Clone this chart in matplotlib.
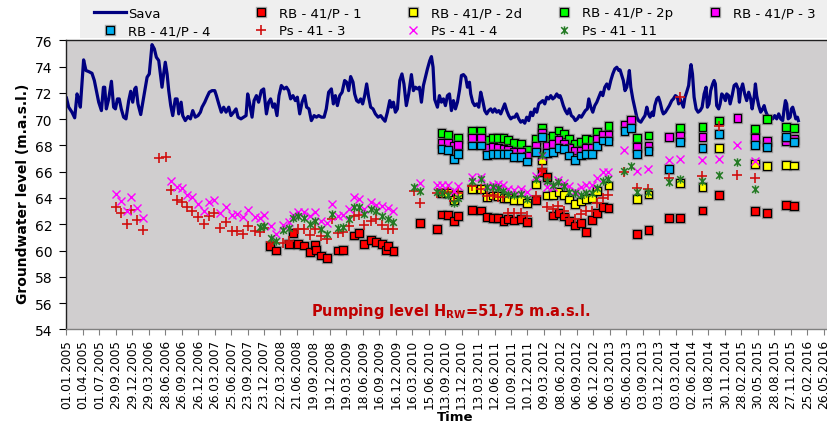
import datetime as dt
import numpy as np
import matplotlib
matplotlib.use("Agg")
import matplotlib.pyplot as plt
import matplotlib.patheffects as pe
from matplotlib.path import Path
from matplotlib.patches import Rectangle

START = dt.date(2005, 1, 1)

# ---- Sava river stage (x = days since 01.01.2005) ----
sava_day = [0, 12, 30, 45, 58, 67, 76, 94, 107, 122, 140, 153, 164, 177, 192, 203, 210, 219, 232, 247,
            259, 269, 280, 290, 301, 314, 327, 342, 353, 364, 375, 382, 393, 408, 424, 443, 455, 470, 483, 494,
            507, 518, 525, 534, 543, 553, 562, 573, 584, 598, 608, 617, 630, 639, 653, 668, 681, 694, 708, 723,
            736, 745, 760, 772, 785, 800, 815, 824, 837, 851, 864, 877, 892, 904, 919, 932, 943, 959, 974, 987,
            996, 1007, 1020, 1031, 1044, 1056, 1071, 1084, 1099, 1111, 1122, 1135, 1144, 1157, 1168, 1181, 1196, 1209, 1221, 1232,
            1245, 1258, 1269, 1282, 1295, 1309, 1320, 1333, 1346, 1361, 1374, 1386, 1401, 1416, 1428, 1441, 1456, 1467, 1478, 1489,
            1502, 1515, 1529, 1540, 1551, 1562, 1575, 1584, 1595, 1606, 1617, 1628, 1639, 1650, 1661, 1672, 1685, 1698, 1713, 1727,
            1740, 1751, 1764, 1777, 1786, 1797, 1808, 1819, 1832, 1844, 1855, 1868, 1881, 1896, 1907, 1918, 1929, 1940, 1951, 1962,
            1973, 1984, 1997, 2006, 2015, 2024, 2039, 2050, 2061, 2072, 2083, 2094, 2105, 2116, 2127, 2138, 2149, 2160, 2171, 2182,
            2194, 2204, 2215, 2222, 2233, 2244, 2255, 2266, 2277, 2288, 2299, 2310, 2321, 2332, 2343, 2354, 2365, 2376, 2387, 2398,
            2409, 2420, 2431, 2442, 2453, 2464, 2475, 2486, 2497, 2508, 2519, 2530, 2541, 2552, 2563, 2574, 2585, 2596, 2607, 2618,
            2629, 2640, 2651, 2662, 2673, 2684, 2695, 2706, 2713, 2720, 2731, 2742, 2753, 2764, 2775, 2786, 2797, 2808, 2819, 2830,
            2841, 2852, 2863, 2871, 2882, 2893, 2904, 2915, 2926, 2937, 2948, 2959, 2970, 2981, 2992, 3003, 3014, 3025, 3036, 3043,
            3061, 3070, 3080, 3089, 3094, 3102, 3113, 3125, 3135, 3144, 3157, 3168, 3180, 3190, 3199, 3208, 3219, 3226, 3234, 3245,
            3254, 3263, 3274, 3281, 3292, 3303, 3314, 3327, 3336, 3347, 3358, 3365, 3373, 3384, 3391, 3400, 3409, 3420, 3428, 3433,
            3441, 3450, 3461, 3472, 3483, 3494, 3505, 3516, 3523, 3532, 3541, 3552, 3560, 3567, 3574, 3585, 3593, 3602, 3611, 3622,
            3629, 3640, 3648, 3659, 3670, 3681, 3692, 3699, 3706, 3717, 3728, 3739, 3750, 3761, 3769, 3780, 3787, 3794, 3805, 3816,
            3827, 3835, 3842, 3849, 3860, 3871, 3882, 3893, 3904, 3915, 3926, 3937, 3945, 3952, 3959, 3967, 3978, 3985, 3992, 4000,
            4009, 4018, 4023]
sava_level = [71.60, 70.91, 70.53, 70.10, 71.92, 71.54, 70.91, 74.51, 73.70, 73.62, 73.49, 72.94, 72.17, 71.29, 70.65, 72.43, 72.43, 70.78, 71.54, 72.88,
              70.91, 70.78, 71.54, 71.54, 70.78, 70.15, 70.02, 71.41, 72.12, 71.29, 72.30, 72.43, 71.16, 70.35, 71.67, 73.19, 73.44, 75.67, 75.34, 74.71,
              74.46, 73.19, 72.43, 73.44, 74.33, 73.44, 72.17, 71.03, 70.27, 71.54, 71.54, 70.40, 71.29, 70.27, 69.89, 70.20, 70.02, 70.65, 70.15, 70.27,
              70.53, 70.91, 71.29, 71.67, 72.05, 72.17, 72.17, 71.79, 71.16, 70.53, 70.91, 70.53, 70.91, 70.27, 70.53, 70.78, 70.15, 70.02, 70.15, 70.27,
              71.92, 71.16, 70.15, 71.41, 71.79, 71.29, 72.17, 72.30, 70.40, 71.29, 71.54, 70.91, 71.16, 70.27, 71.79, 72.56, 72.30, 72.43, 72.17, 71.54,
              71.79, 71.41, 71.67, 70.40, 71.29, 71.79, 70.91, 70.78, 69.89, 70.27, 70.15, 70.27, 70.15, 70.15, 70.78, 72.05, 72.30, 71.16, 71.79, 71.03,
              71.79, 72.05, 72.94, 72.81, 72.17, 73.24, 72.81, 71.92, 71.41, 71.29, 71.54, 71.16, 71.79, 72.68, 71.67, 70.91, 70.78, 70.40, 70.15, 70.27,
              70.02, 69.84, 70.53, 71.41, 70.91, 71.29, 70.53, 70.78, 72.94, 73.44, 72.68, 71.03, 71.92, 73.39, 72.17, 72.43, 72.30, 72.43, 71.29, 72.56,
              73.19, 73.82, 74.46, 74.76, 73.95, 71.50, 70.91, 71.79, 71.29, 71.54, 71.03, 71.79, 71.92, 70.65, 71.41, 70.78, 71.29, 72.17, 73.32, 73.39,
              73.19, 72.43, 72.81, 71.92, 71.29, 71.03, 71.16, 70.91, 72.05, 71.41, 70.65, 70.40, 70.65, 70.78, 70.53, 70.78, 70.53, 70.65, 70.40, 70.78,
              71.16, 70.65, 70.27, 70.02, 70.15, 70.15, 70.40, 70.02, 69.77, 69.89, 69.69, 70.15, 69.89, 70.53, 70.27, 70.78, 70.53, 71.16, 71.29, 71.41,
              71.16, 71.67, 71.54, 71.79, 71.54, 71.67, 71.92, 71.67, 71.79, 71.54, 71.03, 70.65, 70.40, 70.78, 70.27, 70.15, 69.89, 70.02, 70.27, 70.15,
              70.40, 70.65, 70.78, 71.54, 70.91, 70.53, 71.03, 71.29, 71.67, 72.05, 71.79, 72.43, 72.68, 72.30, 72.94, 73.44, 73.82, 73.95, 73.70, 73.75,
              72.94, 72.17, 72.43, 73.19, 73.70, 72.43, 71.54, 70.78, 70.15, 69.89, 69.77, 70.02, 70.27, 70.91, 70.40, 70.15, 70.53, 70.27, 71.03, 71.54,
              71.67, 71.29, 70.65, 70.40, 70.53, 70.78, 71.03, 71.41, 71.54, 71.79, 71.67, 71.16, 71.54, 71.16, 70.91, 71.67, 72.05, 72.56, 73.70, 74.15,
              73.44, 71.67, 70.78, 70.53, 70.65, 70.91, 71.92, 72.43, 70.91, 71.16, 72.17, 72.68, 72.94, 72.68, 71.03, 70.78, 71.16, 71.92, 71.79, 71.41,
              71.92, 71.79, 71.16, 71.79, 72.56, 72.68, 72.30, 71.29, 72.17, 72.68, 71.92, 71.41, 72.05, 71.54, 70.78, 71.67, 72.68, 71.79, 71.03, 70.53,
              70.78, 71.03, 70.65, 70.40, 70.15, 70.20, 70.02, 70.27, 70.02, 70.40, 70.02, 69.89, 70.78, 71.41, 71.16, 70.02, 70.15, 70.78, 70.91, 70.53,
              70.02, 70.15, 69.89]

# ---- Observation wells RB - 41/P (piezometers) ----
rb1_day = [1119, 1150, 1225, 1243, 1271, 1307, 1339, 1366, 1372, 1399, 1430, 1491, 1522, 1581, 1608, 1636, 1672, 1702, 1733, 1755,
           1766, 1797, 1945, 2035, 2062, 2099, 2129, 2154, 2231, 2279, 2310, 2343, 2370, 2402, 2429, 2462, 2499, 2530, 2581, 2612,
           2643, 2673, 2704, 2735, 2764, 2795, 2828, 2856, 2887, 2918, 2948, 2979, 3135, 3199, 3314, 3373, 3496, 3587, 3785, 3849,
           3954, 3999]
rb1_level = [60.33, 60.00, 60.48, 61.35, 60.48, 60.38, 59.88, 60.43, 60.05, 59.62, 59.42, 60.00, 60.05, 61.14, 61.32, 60.48, 60.81, 60.64, 60.48, 60.05,
             60.33, 59.95, 62.11, 61.65, 62.74, 62.71, 62.26, 62.61, 63.10, 63.04, 62.54, 62.49, 62.49, 62.23, 62.41, 62.28, 62.41, 62.16, 63.85, 65.96,
             65.58, 62.66, 62.87, 62.59, 62.23, 61.90, 62.08, 61.40, 62.34, 62.84, 63.30, 63.25, 61.27, 61.58, 62.49, 62.49, 63.04, 64.24, 62.99, 62.84,
             63.48, 63.37]

rb2d_day = [2062, 2099, 2129, 2154, 2231, 2279, 2310, 2343, 2370, 2402, 2429, 2462, 2499, 2530, 2581, 2612, 2643, 2673, 2704, 2735,
            2764, 2795, 2828, 2856, 2887, 2918, 2979, 3135, 3199, 3373, 3496, 3587, 3785, 3849, 3954, 3999]
rb2d_level = [64.39, 64.39, 63.85, 64.26, 64.69, 64.69, 64.06, 64.19, 64.14, 63.98, 63.98, 63.85, 63.85, 63.63, 65.02, 66.85, 64.19, 64.24, 64.44, 64.24,
              63.88, 63.55, 63.73, 63.93, 63.98, 64.52, 64.95, 63.93, 64.26, 65.15, 64.82, 67.78, 66.59, 66.42, 66.54, 66.47]

rb2p_day = [2062, 2099, 2154, 2231, 2279, 2310, 2343, 2370, 2402, 2429, 2462, 2499, 2530, 2581, 2612, 2643, 2673, 2704, 2735, 2764,
            2795, 2828, 2856, 2887, 2918, 2979, 3135, 3199, 3373, 3496, 3587, 3785, 3849, 3954, 3999]
rb2p_level = [68.93, 68.82, 68.55, 69.08, 69.13, 68.42, 68.57, 68.57, 68.57, 68.44, 68.19, 68.11, 67.68, 68.50, 69.33, 68.55, 68.70, 69.13, 68.87, 68.50,
              68.11, 68.29, 68.50, 68.44, 69.05, 69.46, 68.55, 68.75, 69.33, 69.38, 69.89, 69.26, 70.02, 69.43, 69.31]

rb3_day = [2062, 2099, 2129, 2154, 2231, 2279, 2310, 2343, 2370, 2402, 2429, 2462, 2499, 2530, 2581, 2612, 2643, 2673, 2704, 2735,
           2764, 2795, 2828, 2856, 2887, 2918, 2948, 2979, 3067, 3102, 3135, 3199, 3314, 3373, 3496, 3688, 3785, 3849, 3954, 3999]
rb3_level = [68.17, 68.19, 67.99, 68.04, 68.55, 68.57, 67.81, 67.86, 67.81, 67.73, 67.66, 67.48, 67.53, 67.18, 67.94, 68.95, 67.99, 68.11, 68.42, 68.11,
             67.78, 67.61, 67.61, 67.78, 67.78, 68.50, 68.82, 68.82, 69.59, 69.94, 67.86, 67.99, 68.62, 68.70, 68.67, 70.07, 68.55, 68.32, 68.32, 68.50]

rb4_day = [2062, 2099, 2129, 2154, 2231, 2279, 2310, 2343, 2370, 2402, 2429, 2462, 2499, 2530, 2581, 2612, 2643, 2673, 2704, 2735,
           2764, 2795, 2828, 2856, 2887, 2918, 2948, 2979, 3067, 3102, 3135, 3199, 3314, 3373, 3496, 3587, 3785, 3849, 3954, 3999]
rb4_level = [67.73, 67.68, 66.97, 67.35, 67.99, 67.99, 67.30, 67.35, 67.35, 67.35, 67.35, 67.10, 67.10, 66.77, 67.48, 68.62, 67.40, 67.48, 67.81, 67.73,
             67.23, 66.92, 67.23, 67.35, 67.35, 67.94, 68.37, 68.32, 69.08, 69.33, 67.35, 67.56, 66.21, 68.29, 67.78, 68.87, 68.06, 67.86, 68.62, 68.24]

# ---- Piezometers Ps - 41 ----
ps3_day = [272, 301, 331, 356, 390, 419, 510, 547, 575, 606, 636, 664, 692, 721, 754, 783, 811, 846, 875, 908,
           936, 969, 999, 1038, 1064, 1086, 1123, 1192, 1223, 1271, 1307, 1339, 1366, 1399, 1430, 1458, 1491, 1522, 1551, 1581,
           1608, 1636, 1672, 1702, 1733, 1766, 1797, 1908, 1945, 2035, 2062, 2099, 2129, 2154, 2231, 2279, 2310, 2343, 2370, 2402,
           2429, 2462, 2499, 2530, 2581, 2612, 2643, 2673, 2704, 2735, 2764, 2795, 2828, 2856, 2887, 2918, 2948, 2979, 3067, 3135,
           3199, 3314, 3373, 3496, 3587, 3688, 3785]
ps3_level = [63.30, 62.87, 62.03, 63.09, 62.36, 61.60, 67.05, 67.10, 64.64, 63.85, 63.68, 63.30, 63.04, 62.54, 62.03, 62.61, 62.87, 61.70, 62.16, 61.52,
             61.52, 61.27, 61.85, 61.47, 61.45, 61.70, 60.64, 60.56, 60.76, 61.65, 61.65, 61.19, 61.65, 61.14, 60.89, 62.41, 61.32, 61.45, 61.85, 62.66,
             62.72, 61.95, 62.28, 62.41, 61.95, 61.65, 61.65, 64.57, 63.63, 64.39, 64.39, 64.49, 63.80, 64.39, 64.95, 64.69, 64.14, 64.19, 64.06, 64.06,
             62.84, 62.84, 62.87, 62.66, 64.14, 66.21, 63.30, 63.17, 63.42, 63.04, 62.41, 62.41, 62.79, 63.04, 63.04, 63.60, 63.98, 64.24, 66.01, 64.74,
             64.69, 65.50, 71.66, 65.66, 69.46, 65.78, 65.50]

ps4_day = [272, 301, 331, 356, 390, 419, 575, 606, 636, 664, 692, 721, 754, 783, 811, 846, 875, 908, 936, 969,
           999, 1038, 1064, 1086, 1123, 1150, 1192, 1223, 1244, 1271, 1307, 1339, 1366, 1399, 1430, 1458, 1491, 1522, 1551, 1581,
           1608, 1636, 1672, 1702, 1733, 1766, 1797, 1945, 2035, 2062, 2099, 2129, 2154, 2231, 2279, 2310, 2343, 2370, 2402, 2429,
           2462, 2499, 2530, 2581, 2612, 2643, 2673, 2704, 2735, 2764, 2795, 2828, 2856, 2887, 2918, 2948, 2979, 3067, 3135, 3199,
           3314, 3373, 3496, 3587, 3688, 3785]
ps4_level = [64.31, 63.80, 63.04, 64.06, 63.22, 62.46, 65.33, 64.87, 64.74, 64.24, 64.06, 63.55, 63.04, 63.68, 63.88, 62.87, 63.35, 62.72, 62.79, 62.59,
             63.11, 62.59, 62.46, 62.72, 61.85, 61.27, 61.95, 62.16, 62.72, 62.97, 62.97, 62.61, 62.92, 62.28, 62.11, 63.55, 62.61, 62.72, 63.17, 64.06,
             63.93, 63.17, 63.73, 63.47, 63.42, 63.22, 63.04, 65.15, 65.02, 65.02, 65.02, 64.57, 64.95, 65.63, 65.58, 64.95, 65.02, 65.07, 65.02, 64.69,
             64.62, 64.69, 64.44, 65.66, 67.23, 64.82, 64.87, 65.40, 65.15, 64.89, 64.57, 64.82, 65.02, 65.02, 65.50, 65.96, 66.01, 67.68, 66.08, 66.21,
             66.90, 66.97, 66.92, 66.97, 68.04, 66.85]

ps11_day = [1064, 1086, 1123, 1150, 1192, 1223, 1244, 1271, 1307, 1339, 1366, 1399, 1430, 1458, 1491, 1522, 1551, 1581, 1608, 1636,
            1672, 1702, 1733, 1766, 1797, 1908, 1945, 2035, 2062, 2099, 2129, 2154, 2231, 2279, 2310, 2343, 2370, 2402, 2429, 2462,
            2499, 2530, 2581, 2612, 2643, 2673, 2704, 2735, 2764, 2795, 2828, 2856, 2887, 2918, 2948, 2979, 3067, 3102, 3135, 3199,
            3314, 3373, 3496, 3587, 3688, 3785]
ps11_level = [61.78, 61.90, 60.97, 60.76, 61.57, 61.70, 62.46, 62.61, 62.49, 62.03, 62.28, 61.65, 61.27, 62.79, 61.75, 61.78, 62.41, 63.30, 63.30, 62.79,
              63.17, 63.04, 62.66, 62.41, 62.21, 64.82, 64.57, 64.44, 64.39, 64.19, 63.63, 63.98, 65.33, 65.45, 64.82, 64.82, 64.77, 64.52, 64.31, 64.24,
              64.31, 63.93, 65.45, 67.28, 65.33, 65.02, 65.20, 64.95, 64.44, 64.39, 64.19, 64.39, 64.39, 64.74, 65.33, 65.45, 66.08, 66.42, 64.44, 64.44,
              65.20, 65.45, 65.33, 65.78, 66.77, 64.69]

tick_labels = ["01.01.2005", "01.04.2005", "01.07.2005", "29.09.2005", "29.12.2005", "29.03.2006", "28.06.2006",
               "26.09.2006", "26.12.2006", "26.03.2007", "25.06.2007", "23.09.2007", "23.12.2007", "22.03.2008",
               "21.06.2008", "19.09.2008", "19.12.2008", "19.03.2009", "18.06.2009", "16.09.2009", "16.12.2009",
               "16.03.2010", "15.06.2010", "13.09.2010", "13.12.2010", "13.03.2011", "12.06.2011", "10.09.2011",
               "10.12.2011", "09.03.2012", "08.06.2012", "06.09.2012", "06.12.2012", "06.03.2013", "05.06.2013",
               "03.09.2013", "03.12.2013", "03.03.2014", "02.06.2014", "31.08.2014", "30.11.2014", "28.02.2015",
               "30.05.2015", "28.08.2015", "27.11.2015", "25.02.2016", "26.05.2016"]


def day_number(label):
    return (dt.datetime.strptime(label, "%d.%m.%Y").date() - START).days


# Excel-like "star" marker: an x crossed by a vertical bar
star = Path([(-1, -1), (1, 1), (-1, 1), (1, -1), (0, -1.25), (0, 1.25)],
            [Path.MOVETO, Path.LINETO, Path.MOVETO, Path.LINETO, Path.MOVETO, Path.LINETO])

plt.rcParams["font.family"] = "DejaVu Sans"
W, H = 828.0, 427.0
fig = plt.figure(figsize=(W / 100, H / 100), dpi=100)
ax = fig.add_axes([66.5 / W, 1 - 330.4 / H, (W - 66.5) / W, (330.4 - 41.3) / H])
ax.set_facecolor("#D0CECF")

# light panel behind the legend
fig.patches.append(Rectangle((80 / W, 1 - 39 / H), 1, 39 / H, transform=fig.transFigure,
                             facecolor="#EFEFEF", edgecolor="none", zorder=0))

halo = [pe.Stroke(linewidth=2.4, foreground=(0.35, 0.35, 0.35, 0.45)), pe.Normal()]
sq = dict(linestyle="none", marker="s", markersize=5.6, markeredgecolor="black", markeredgewidth=0.9)

h_sava, = ax.plot(sava_day, sava_level, color="#000080", lw=2.3, label="Sava", zorder=2)
h_rb1, = ax.plot(rb1_day, rb1_level, markerfacecolor="#FF0000", label="RB - 41/P - 1", path_effects=halo, zorder=4, **sq)
h_rb2d, = ax.plot(rb2d_day, rb2d_level, markerfacecolor="#FFFF00", label="RB - 41/P - 2d", path_effects=halo, zorder=4, **sq)
h_rb2p, = ax.plot(rb2p_day, rb2p_level, markerfacecolor="#00FF00", label="RB - 41/P - 2p", path_effects=halo, zorder=4, **sq)
h_rb3, = ax.plot(rb3_day, rb3_level, markerfacecolor="#FF00FF", label="RB - 41/P - 3", path_effects=halo, zorder=4, **sq)
h_rb4, = ax.plot(rb4_day, rb4_level, markerfacecolor="#00B0F0", label="RB - 41/P - 4", path_effects=halo, zorder=4, **sq)
h_ps3, = ax.plot(ps3_day, ps3_level, linestyle="none", marker="+", markersize=7, markeredgewidth=1.2,
                 color="#D01010", label="Ps - 41 - 3", zorder=5)
h_ps4, = ax.plot(ps4_day, ps4_level, linestyle="none", marker="x", markersize=5.5, markeredgewidth=1.0,
                 color="#FF00FF", label="Ps - 41 - 4", zorder=5)
h_ps11, = ax.plot(ps11_day, ps11_level, linestyle="none", marker=star, markersize=6, markeredgewidth=1.1,
                  color="#237A23", label="Ps - 41 - 11", zorder=5)

ax.set_xlim(0, 4186)
ax.set_ylim(54, 76)
ax.set_yticks(np.arange(54, 77, 2))
ax.set_xticks([day_number(t) for t in tick_labels])
ax.set_xticklabels(tick_labels, rotation=90, fontsize=8.7)
ax.tick_params(axis="y", labelsize=10, direction="out", length=5, width=0.8, pad=5)
ax.tick_params(axis="x", direction="out", length=4, width=0.8, pad=3, color="#808080")
for s in ax.spines.values():
    s.set_color("#202020")
    s.set_linewidth(1.0)
ax.spines["bottom"].set_color("#808080")

ax.set_ylabel("Groundwater level (m.a.s.l.)", fontsize=10, fontweight="bold")
ax.yaxis.set_label_coords((30 - 66.5) / (W - 66.5), 0.4735)
ax.set_xlabel("Time", fontsize=9.5, fontweight="bold")
ax.xaxis.set_label_coords((455 - 66.5) / (W - 66.5), -(411 - 330.4) / (330.4 - 41.3))

ax.text(0.505, 0.067, r"Pumping level H$_\mathbf{RW}$=51,75 m.a.s.l.", transform=ax.transAxes,
        ha="center", va="center", color="#C00000", fontsize=10.5, fontweight="bold")

# legend laid out as five evenly spaced columns (two rows)
columns = [[h_sava, h_rb4], [h_rb1, h_ps3], [h_rb2d, h_ps4], [h_rb2p, h_ps11], [h_rb3]]
marker_x = [110, 261, 413, 564, 715]
fs = 9.5
half_handle = 2.4 * fs * 100 / 72 / 2
for col, mx in zip(columns, marker_x):
    fig.legend(handles=col, labels=[h.get_label() for h in col], ncol=1, loc="upper left",
               bbox_to_anchor=((mx - half_handle) / W, 1 - 7.5 / H), frameon=False, fontsize=fs,
               handlelength=2.4, handletextpad=0.15, labelspacing=0.36, borderpad=0.0,
               borderaxespad=0.0)

fig.savefig("out.png", dpi=100)
